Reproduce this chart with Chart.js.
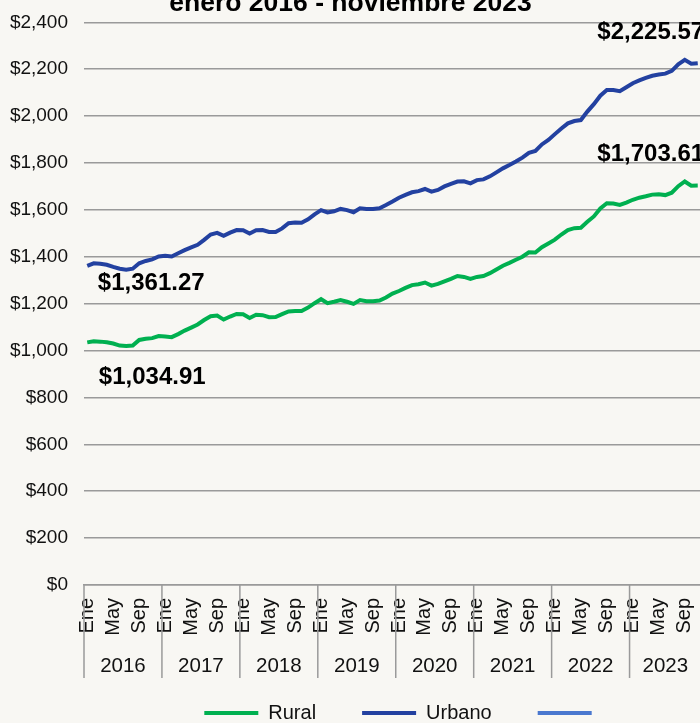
<!DOCTYPE html>
<html>
<head>
<meta charset="utf-8">
<script src="https://cdn.jsdelivr.net/npm/chart.js@4.4.1/dist/chart.umd.min.js"></script>
<style>
html, body { margin: 0; padding: 0; background: #f8f7f3; overflow: hidden; }
#marco { position: relative; width: 700px; height: 723px; overflow: hidden; }
#grafico { position: absolute; left: 0; top: -20px; }
</style>
</head>
<body>
<div id="marco"><canvas id="grafico" width="750" height="753"></canvas></div>
<script>
var meses = ['Ene','Feb','Mar','Abr','May','Jun','Jul','Ago','Sep','Oct','Nov','Dic'];
var anios = ['2016','2017','2018','2019','2020','2021','2022','2023'];
var mesesVisibles = ['Ene','May','Sep'];

var rural = [1034.91,1040,1038,1035,1030,1021,1019,1021,1045,1050,1053,1062,
  1060,1057,1070,1085,1098,1111,1130,1146,1149,1132,1145,1156,
  1155,1139,1153,1151,1142,1143,1155,1167,1169,1169,1183,1202,
  1219,1202,1208,1215,1208,1199,1215,1210,1210,1213,1226,1243,
  1254,1267,1279,1283,1290,1277,1284,1295,1306,1318,1314,1306,
  1314,1318,1330,1346,1362,1374,1387,1400,1419,1418,1441,1457,
  1473,1495,1514,1522,1524,1549,1572,1606,1628,1627,1621,1631,
  1643,1652,1658,1665,1667,1663,1673,1701,1721,1703,1703.61];

var urbano = [1361.27,1372,1370,1366,1357,1349,1345,1349,1372,1382,1389,1401,
  1404,1401,1415,1428,1440,1451,1472,1495,1502,1489,1503,1514,
  1513,1499,1513,1514,1506,1506,1521,1543,1546,1545,1560,1581,
  1599,1589,1594,1604,1599,1590,1607,1604,1604,1607,1621,1636,
  1652,1664,1675,1680,1689,1678,1685,1700,1711,1721,1722,1713,
  1727,1730,1743,1760,1777,1791,1806,1823,1843,1851,1879,1898,
  1923,1947,1969,1979,1983,2019,2051,2087,2111,2111,2106,2123,
  2140,2152,2163,2172,2177,2181,2193,2221,2240,2223,2225.57];

// categorias mensuales ene 2016 - nov 2023
var categorias = [];
anios.forEach(function (a) {
  meses.forEach(function (m) {
    if (categorias.length < rural.length) categorias.push(m);
  });
});

var fuente = '"Liberation Sans", Arial, sans-serif';

function dinero(v) {
  return '$' + v.toLocaleString('en-US', {minimumFractionDigits: 2, maximumFractionDigits: 2});
}

// lineas y etiquetas de año bajo el eje
var separadoresAnios = {
  id: 'separadoresAnios',
  afterDraw: function (chart) {
    var x = chart.scales.x, area = chart.chartArea, ctx = chart.ctx;
    var medio = (x.getPixelForValue(1) - x.getPixelForValue(0)) / 2;
    ctx.save();
    ctx.strokeStyle = '#9a9a9a';
    ctx.lineWidth = 1.5;
    ctx.fillStyle = '#111';
    ctx.font = '20.5px ' + fuente;
    ctx.textAlign = 'center';
    ctx.textBaseline = 'middle';
    anios.forEach(function (anio, k) {
      var ini = k * 12;
      var fin = Math.min(ini + 11, categorias.length - 1);
      var x0 = x.getPixelForValue(ini) - medio;
      var x1 = x.getPixelForValue(fin) + medio;
      ctx.beginPath();
      ctx.moveTo(x0, area.bottom);
      ctx.lineTo(x0, area.bottom + 93);
      if (k === anios.length - 1) {
        ctx.moveTo(x1, area.bottom);
        ctx.lineTo(x1, area.bottom + 93);
      }
      ctx.stroke();
      ctx.fillText(anio, (x0 + x1) / 2, area.bottom + 81);
    });
    ctx.restore();
  }
};

// valores inicial y final de cada serie
var etiquetasValor = {
  id: 'etiquetasValor',
  afterDatasetsDraw: function (chart) {
    var ctx = chart.ctx;
    var ultimo = categorias.length - 1;
    var marcas = [
      {serie: 1, i: 0, dx: 64, dy: 18},
      {serie: 0, i: 0, dx: 65, dy: 35},
      {serie: 1, i: ultimo, dx: -47, dy: -31},
      {serie: 0, i: ultimo, dx: -47, dy: -31}
    ];
    ctx.save();
    ctx.font = 'bold 24px ' + fuente;
    ctx.fillStyle = '#000';
    ctx.textAlign = 'center';
    ctx.textBaseline = 'middle';
    marcas.forEach(function (m) {
      var p = chart.getDatasetMeta(m.serie).data[m.i];
      var v = chart.data.datasets[m.serie].data[m.i];
      ctx.fillText(dinero(v), p.x + m.dx, p.y + m.dy);
    });
    ctx.restore();
  }
};

// la leyenda del original no queda centrada: correrla un poco a la derecha
var correrLeyenda = {
  id: 'correrLeyenda',
  afterLayout: function (chart) {
    chart.legend.left += 10.5;
    chart.legend.right += 10.5;
  }
};

var ctx = document.getElementById('grafico').getContext('2d');
var graficoIngreso = new Chart(ctx, {
  type: 'line',
  data: {
    labels: categorias,
    datasets: [{
      label: 'Rural',
      data: rural,
      borderColor: '#00b050',
      backgroundColor: '#00b050',
      borderWidth: 4,
      pointRadius: 0,
      fill: false
    }, {
      label: 'Urbano',
      data: urbano,
      borderColor: '#2341a0',
      backgroundColor: '#2341a0',
      borderWidth: 4,
      pointRadius: 0,
      fill: false
    }, {
      label: '',
      data: [],
      borderColor: '#4a78cf',
      backgroundColor: '#4a78cf',
      borderWidth: 4,
      pointRadius: 0,
      fill: false
    }]
  },
  options: {
    responsive: false,
    animation: false,
    layout: { padding: { left: 0, right: 49, top: 0, bottom: 0 } },
    scales: {
      y: {
        min: 0,
        max: 2400,
        afterFit: function (axis) { axis.width = 84; },
        ticks: {
          stepSize: 200,
          padding: 16,
          color: '#111',
          font: { family: fuente, size: 19 },
          callback: function (v) { return '$' + v.toLocaleString('en-US'); }
        },
        grid: { color: '#9a9a9a', lineWidth: 1.5, drawTicks: false },
        border: { display: false }
      },
      x: {
        offset: true,
        afterFit: function (axis) { axis.height = 72; },
        ticks: {
          autoSkip: false,
          minRotation: 90,
          maxRotation: 90,
          padding: 13,
          color: '#111',
          font: { family: fuente, size: 20 },
          callback: function (v, i) {
            return mesesVisibles.indexOf(categorias[i]) >= 0 ? categorias[i] : '';
          }
        },
        grid: { display: false, drawTicks: false },
        border: { display: true, color: '#9a9a9a', width: 1.5 }
      }
    },
    plugins: {
      title: {
        display: true,
        text: 'enero 2016 - noviembre 2023',
        color: '#000',
        font: { family: fuente, size: 26.5, weight: 'bold', lineHeight: 1.2 },
        padding: { top: 8, bottom: 2.5 }
      },
      legend: {
        position: 'bottom',
        fullSize: false,
        labels: {
          boxWidth: 54,
          boxHeight: 4,
          padding: 46,
          color: '#111',
          font: { family: fuente, size: 20 },
          generateLabels: function (chart) {
            return Chart.defaults.plugins.legend.labels.generateLabels(chart).map(function (it) {
              it.fillStyle = it.strokeStyle;
              it.lineWidth = 0;
              return it;
            });
          }
        }
      },
      tooltip: { enabled: false }
    }
  },
  plugins: [separadoresAnios, etiquetasValor, correrLeyenda]
});
</script>
</body>
</html>
